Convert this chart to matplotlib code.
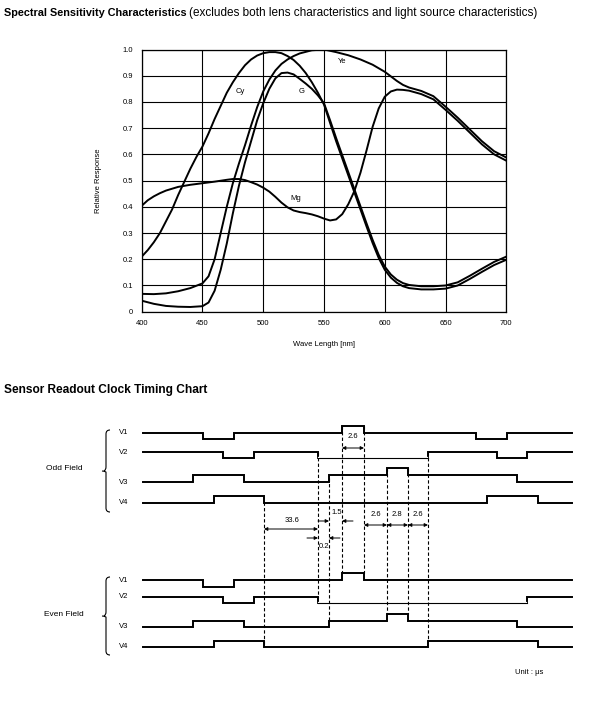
import matplotlib
matplotlib.use("Agg")
import matplotlib.pyplot as plt
from matplotlib.path import Path
from matplotlib.patches import PathPatch

plt.rcParams['font.family'] = ['Liberation Sans', 'DejaVu Sans']

# ---- spectral sensitivity data ----
cy_nm = [400, 405, 410, 415, 420, 425, 430, 435, 440, 445, 450, 455, 460, 465, 470, 475, 480,
         485, 490, 495, 500, 505, 510, 515, 520, 525, 530, 535, 540, 545, 550, 555, 560, 565,
         570, 575, 580, 585, 590, 595, 600, 605, 610, 615, 620, 630, 640, 650, 660, 670, 680, 690, 700]
cy_val = [0.21, 0.235, 0.265, 0.30, 0.345, 0.39, 0.445, 0.495, 0.545, 0.59, 0.63, 0.68, 0.735,
          0.785, 0.835, 0.875, 0.91, 0.94, 0.962, 0.977, 0.986, 0.99, 0.99, 0.986, 0.975, 0.96,
          0.938, 0.91, 0.875, 0.835, 0.79, 0.72, 0.65, 0.585, 0.52, 0.455, 0.39, 0.325, 0.262,
          0.205, 0.16, 0.13, 0.11, 0.097, 0.09, 0.085, 0.085, 0.088, 0.10, 0.125, 0.152, 0.178, 0.198]

g_nm = [400, 410, 420, 430, 440, 450, 455, 460, 465, 470, 475, 480, 485, 490, 495, 500, 505, 510,
        515, 520, 525, 530, 535, 540, 545, 550, 555, 560, 565, 570, 575, 580, 585, 590, 595, 600,
        605, 610, 615, 620, 630, 640, 650, 660, 670, 680, 690, 700]
g_val = [0.042, 0.03, 0.022, 0.019, 0.018, 0.021, 0.035, 0.08, 0.16, 0.26, 0.375, 0.48, 0.57,
         0.65, 0.73, 0.795, 0.85, 0.89, 0.91, 0.912, 0.905, 0.888, 0.87, 0.85, 0.825, 0.795, 0.73,
         0.662, 0.597, 0.532, 0.467, 0.402, 0.337, 0.274, 0.217, 0.172, 0.142, 0.122, 0.109, 0.102,
         0.097, 0.097, 0.10, 0.112, 0.137, 0.164, 0.19, 0.21]

ye_nm = [400, 410, 420, 430, 440, 450, 455, 460, 465, 470, 475, 480, 485, 490, 495, 500, 505, 510,
         515, 520, 525, 530, 540, 550, 560, 570, 580, 590, 600, 610, 615, 620, 630, 640, 650, 660,
         670, 680, 690, 700]
ye_val = [0.068, 0.067, 0.07, 0.078, 0.09, 0.108, 0.135, 0.2, 0.3, 0.4, 0.49, 0.565, 0.635, 0.71,
          0.78, 0.84, 0.885, 0.92, 0.945, 0.962, 0.975, 0.985, 0.997, 1.0, 0.99, 0.978, 0.962,
          0.942, 0.915, 0.88, 0.865, 0.855, 0.842, 0.822, 0.782, 0.74, 0.695, 0.65, 0.612, 0.588]

mg_nm = [400, 405, 410, 415, 420, 430, 440, 450, 460, 470, 475, 480, 485, 490, 495, 500, 505, 510,
         515, 520, 525, 530, 535, 540, 545, 550, 555, 560, 565, 570, 575, 580, 585, 590, 595, 600,
         605, 610, 615, 620, 630, 640, 650, 660, 670, 680, 690, 700]
mg_val = [0.404, 0.425, 0.44, 0.452, 0.462, 0.476, 0.484, 0.49, 0.496, 0.503, 0.506, 0.506, 0.502,
          0.494, 0.485, 0.473, 0.458, 0.438, 0.416, 0.398, 0.386, 0.38, 0.376, 0.371, 0.364, 0.355,
          0.348, 0.352, 0.372, 0.41, 0.46, 0.53, 0.615, 0.705, 0.775, 0.82, 0.84, 0.847, 0.846,
          0.843, 0.83, 0.81, 0.77, 0.728, 0.683, 0.638, 0.60, 0.576]

curve_labels = ["Cy", "G", "Ye", "Mg"]
label_pos = [(481, 0.84), (532, 0.84), (565, 0.955), (527, 0.43)]

# ---- timing chart data (schematic, not to scale) ----
sig_names = ["V1", "V2", "V3", "V4"]
odd_edges = [
    [143, 203, 234, 342, 364, 476, 507, 572],
    [143, 223, 254, 318, 428, 497, 527, 572],
    [143, 193, 244, 329, 387, 408, 517, 572],
    [143, 214, 264, 487, 538, 572],
]
odd_levels = [
    [1, 0, 1, 2, 1, 0, 1],
    [1, 0, 1, 0, 1, 0, 1],
    [0, 1, 0, 1, 2, 1, 0],
    [0, 1, 0, 1, 0],
]
even_edges = [
    [143, 203, 234, 342, 364, 572],
    [143, 223, 254, 318, 527, 572],
    [143, 193, 244, 329, 387, 408, 517, 572],
    [143, 214, 264, 428, 538, 572],
]
even_levels = [
    [1, 0, 1, 2, 1],
    [1, 0, 1, 0, 1],
    [0, 1, 0, 1, 2, 1, 0],
    [0, 1, 0, 1, 0],
]
# segments drawn with a thin pen (row, segment index)
odd_thin = [(1, 3)]
even_thin = [(1, 3)]
odd_base = [439.3, 458.3, 481.7, 502.7]
even_base = [586.7, 603.3, 627.3, 647.3]
odd_label_y = [433, 452, 482, 502]
even_label_y = [580, 597, 627, 647]
level_step = 6.7

# dashed reference lines: x, y_top, y_bottom
ref_x = [264, 318, 329, 342, 364, 387, 408, 428]
ref_top = [502, 452, 478, 426, 426, 468, 468, 452]
ref_bot = [647, 597, 621, 573, 573, 614, 614, 641]

# dimensions: label, x1, x2, y, inside arrows?
dim_text = ["2.6", "33.6", "2.6", "2.8", "2.6", "1.5", "0.2"]
dim_x1 = [342, 264, 364, 387, 408, 329, 318]
dim_x2 = [364, 318, 387, 408, 428, 342, 329]
dim_y = [448, 529, 525, 525, 525, 521, 538]
dim_inside = [True, True, True, True, True, False, False]
dim_text_pos = [(353, 437), (292, 521), (376, 514), (397, 514), (418, 514), (337, 512), (324, 547)]

W, H = 600, 703
fig = plt.figure(figsize=(W / 100, H / 100), dpi=100)

# ---------- spectral chart ----------
ax = fig.add_axes([141.7 / W, 1 - 311.7 / H, 364.6 / W, 262.2 / H])
for nm, val in [(cy_nm, cy_val), (g_nm, g_val), (ye_nm, ye_val), (mg_nm, mg_val)]:
    ax.plot(nm, val, color='black', lw=1.4, zorder=3)
for name, (lx, ly) in zip(curve_labels, label_pos):
    ax.text(lx, ly, name, fontsize=5.5, ha='center', va='center', zorder=4)

ax.set_xlim(400, 700)
ax.set_ylim(0, 1)
ax.set_xticks(range(400, 701, 50))
ax.set_yticks([i / 10 for i in range(11)])
ax.set_yticklabels(["0"] + [f"{i / 10:.1f}" for i in range(1, 11)])
ax.tick_params(length=0, labelsize=5.5, pad=6)
ax.grid(True, color='black', lw=0.8)
for s in ax.spines.values():
    s.set_linewidth(0.9)
ax.set_ylabel("Relative Response", fontsize=5.5, labelpad=15)
ax.set_xlabel("Wave Length [nm]", fontsize=5.5, labelpad=10)

# titles
fig.text(4 / W, 1 - 13 / H, "Spectral Sensitivity Characteristics", fontsize=7.8,
         fontweight='bold', va='center')
fig.text(189 / W, 1 - 13 / H,
         "(excludes both lens characteristics and light source characteristics)",
         fontsize=8.5, va='center')
fig.text(4 / W, 1 - 390 / H, "Sensor Readout Clock Timing Chart", fontsize=8.6,
         fontweight='bold', va='center')

# ---------- timing chart ----------
tx = fig.add_axes([0, 0, 1, 1])
tx.set_xlim(0, W)
tx.set_ylim(H, 0)
tx.axis('off')


def draw_signal(edges, levels, base, thin_segs):
    xs, ys = [], []
    for i, lv in enumerate(levels):
        y = base - lv * level_step
        xs += [edges[i], edges[i + 1]]
        ys += [y, y]
    tx.plot(xs, ys, color='black', lw=1.4, solid_joinstyle='miter')
    for i in thin_segs:
        y = base - levels[i] * level_step
        tx.plot([edges[i] + 1, edges[i + 1] - 1], [y, y], color='white', lw=1.6)
        tx.plot([edges[i], edges[i + 1]], [y, y], color='black', lw=0.8)


for r, (edges, levels, base) in enumerate(zip(odd_edges, odd_levels, odd_base)):
    draw_signal(edges, levels, base, [s for (rr, s) in odd_thin if rr == r])
for r, (edges, levels, base) in enumerate(zip(even_edges, even_levels, even_base)):
    draw_signal(edges, levels, base, [s for (rr, s) in even_thin if rr == r])

for name, y in zip(sig_names, odd_label_y):
    tx.text(124, y, name, fontsize=5.5, ha='center', va='center')
for name, y in zip(sig_names, even_label_y):
    tx.text(124, y, name, fontsize=5.5, ha='center', va='center')

tx.vlines(ref_x, ref_top, ref_bot, colors='black', linestyles=(0, (3, 2)), lw=0.8)


def brace(y0, y1):
    ym = (y0 + y1) / 2
    verts = [(110, y0), (106, y0), (106, y0 + 4), (106, ym - 4),
             (106, ym - 1), (104, ym), (102, ym),
             (104, ym), (106, ym + 1), (106, ym + 4),
             (106, y1 - 4), (106, y1), (110, y1)]
    codes = [Path.MOVETO, Path.CURVE3, Path.CURVE3, Path.LINETO,
             Path.CURVE3, Path.CURVE3, Path.MOVETO,
             Path.CURVE3, Path.CURVE3, Path.LINETO,
             Path.LINETO, Path.CURVE3, Path.CURVE3]
    tx.add_patch(PathPatch(Path(verts, codes), fill=False, lw=0.8, color='black'))


brace(430, 512)
brace(577, 655)
tx.text(64, 469, "Odd Field", fontsize=6, ha='center', va='center')
tx.text(64, 614, "Even Field", fontsize=6, ha='center', va='center')

ap = dict(lw=0.7, color='black', mutation_scale=5, shrinkA=0, shrinkB=0)
for t, x1, x2, y, inside, (px, py) in zip(dim_text, dim_x1, dim_x2, dim_y, dim_inside, dim_text_pos):
    if inside:
        tx.annotate('', xy=(x2, y), xytext=(x1, y), arrowprops=dict(arrowstyle='<|-|>', **ap))
    else:
        tx.annotate('', xy=(x1, y), xytext=(x1 - 11, y), arrowprops=dict(arrowstyle='-|>', **ap))
        tx.annotate('', xy=(x2, y), xytext=(x2 + 11, y), arrowprops=dict(arrowstyle='-|>', **ap))
    tx.text(px, py, t, fontsize=5.5, ha='center', va='center')

tx.text(529, 673, "Unit : μs", fontsize=5.5, ha='center', va='center')

fig.savefig("out.png", dpi=100)
